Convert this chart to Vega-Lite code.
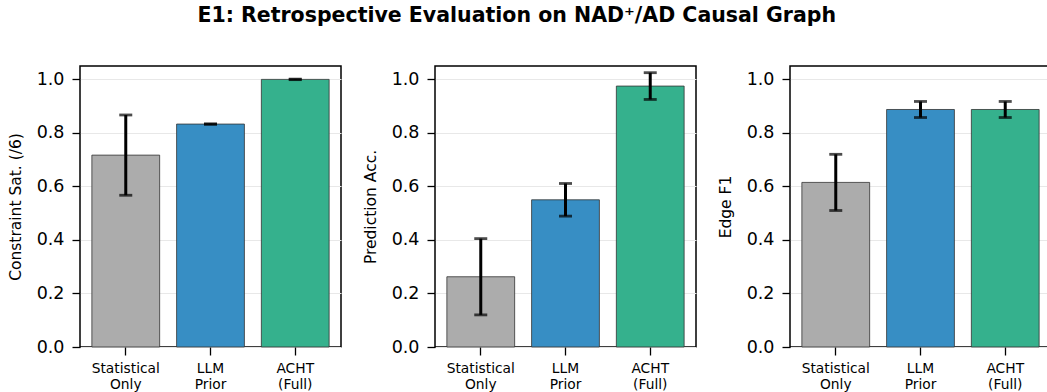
{
  "$schema": "https://vega.github.io/schema/vega-lite/v6.json",
  "padding": {"left": 7, "top": 5, "right": 0, "bottom": 0},
  "title": {"text": "E1: Retrospective Evaluation on NAD⁺/AD Causal Graph", "fontSize": 20.5, "fontWeight": "bold", "font": "DejaVu Sans", "anchor": "start", "dx": 190, "offset": 39, "color": "#000000"},
  "datasets": {
    "d": [
      {"metric": "Constraint Sat. (/6)", "method": "Statistical Only", "value": 0.717, "lo": 0.567, "hi": 0.867},
      {"metric": "Constraint Sat. (/6)", "method": "LLM Prior", "value": 0.833, "lo": 0.832, "hi": 0.834},
      {"metric": "Constraint Sat. (/6)", "method": "ACHT (Full)", "value": 1.0, "lo": 0.999, "hi": 1.001},
      {"metric": "Prediction Acc.", "method": "Statistical Only", "value": 0.2625, "lo": 0.12, "hi": 0.405},
      {"metric": "Prediction Acc.", "method": "LLM Prior", "value": 0.55, "lo": 0.489, "hi": 0.611},
      {"metric": "Prediction Acc.", "method": "ACHT (Full)", "value": 0.975, "lo": 0.925, "hi": 1.025},
      {"metric": "Edge F1", "method": "Statistical Only", "value": 0.615, "lo": 0.51, "hi": 0.72},
      {"metric": "Edge F1", "method": "LLM Prior", "value": 0.8875, "lo": 0.8575, "hi": 0.9175},
      {"metric": "Edge F1", "method": "ACHT (Full)", "value": 0.8875, "lo": 0.8575, "hi": 0.9175}
    ]
  },
  "config": {
    "font": "DejaVu Sans",
    "view": {"stroke": "#000000", "strokeWidth": 1.5},
    "axis": {
      "domain": false,
      "tickColor": "#000000",
      "tickSize": 8,
      "tickWidth": 1.3,
      "labelColor": "#000000",
      "titleColor": "#000000",
      "titleFontWeight": "normal",
      "gridColor": "#e8e8e8",
      "gridWidth": 1
    },
    "axisY": {"labelFontSize": 17.5, "titleFontSize": 15.5, "labelPadding": 8, "titlePadding": 13},
    "axisX": {"labelFontSize": 13.8, "labelPadding": 6, "labelLineHeight": 16, "grid": false}
  },
  "spacing": 20,
  "hconcat": [
    {
      "width": 261, "height": 281,
      "data": {"name": "d"},
      "transform": [{"filter": "datum.metric === 'Constraint Sat. (/6)'"}],
      "encoding": {
        "x": {"field": "method", "type": "nominal", "sort": ["Statistical Only", "LLM Prior", "ACHT (Full)"], "scale": {"paddingInner": 0.2, "paddingOuter": 0.14}, "axis": {"title": null, "labelAngle": 0, "labelExpr": "split(datum.label, ' ')"}}
      },
      "layer": [
        {"mark": {"type": "bar", "stroke": "#333333", "strokeOpacity": 0.8, "strokeWidth": 1},
         "encoding": {
           "y": {"field": "value", "type": "quantitative", "scale": {"domain": [0, 1.05], "nice": false}, "axis": {"title": "Constraint Sat. (/6)", "values": [0, 0.2, 0.4, 0.6, 0.8, 1.0], "format": ".1f"}},
           "color": {"field": "method", "type": "nominal", "scale": {"domain": ["Statistical Only", "LLM Prior", "ACHT (Full)"], "range": ["#acacac", "#378ec4", "#35b18d"]}, "legend": null}
         }},
        {"mark": {"type": "rule", "color": "#000000", "strokeWidth": 3},
         "encoding": {"y": {"field": "lo", "type": "quantitative"}, "y2": {"field": "hi"}}},
        {"mark": {"type": "tick", "color": "#000000", "thickness": 2.8, "size": 13},
         "encoding": {"y": {"field": "lo", "type": "quantitative"}}},
        {"mark": {"type": "tick", "color": "#000000", "thickness": 2.8, "size": 13},
         "encoding": {"y": {"field": "hi", "type": "quantitative"}}}
      ]
    },
    {
      "width": 261, "height": 281,
      "data": {"name": "d"},
      "transform": [{"filter": "datum.metric === 'Prediction Acc.'"}],
      "encoding": {
        "x": {"field": "method", "type": "nominal", "sort": ["Statistical Only", "LLM Prior", "ACHT (Full)"], "scale": {"paddingInner": 0.2, "paddingOuter": 0.14}, "axis": {"title": null, "labelAngle": 0, "labelExpr": "split(datum.label, ' ')"}}
      },
      "layer": [
        {"mark": {"type": "bar", "stroke": "#333333", "strokeOpacity": 0.8, "strokeWidth": 1},
         "encoding": {
           "y": {"field": "value", "type": "quantitative", "scale": {"domain": [0, 1.05], "nice": false}, "axis": {"title": "Prediction Acc.", "values": [0, 0.2, 0.4, 0.6, 0.8, 1.0], "format": ".1f"}},
           "color": {"field": "method", "type": "nominal", "scale": {"domain": ["Statistical Only", "LLM Prior", "ACHT (Full)"], "range": ["#acacac", "#378ec4", "#35b18d"]}, "legend": null}
         }},
        {"mark": {"type": "rule", "color": "#000000", "strokeWidth": 3},
         "encoding": {"y": {"field": "lo", "type": "quantitative"}, "y2": {"field": "hi"}}},
        {"mark": {"type": "tick", "color": "#000000", "thickness": 2.8, "size": 13},
         "encoding": {"y": {"field": "lo", "type": "quantitative"}}},
        {"mark": {"type": "tick", "color": "#000000", "thickness": 2.8, "size": 13},
         "encoding": {"y": {"field": "hi", "type": "quantitative"}}}
      ]
    },
    {
      "width": 261, "height": 281,
      "data": {"name": "d"},
      "transform": [{"filter": "datum.metric === 'Edge F1'"}],
      "encoding": {
        "x": {"field": "method", "type": "nominal", "sort": ["Statistical Only", "LLM Prior", "ACHT (Full)"], "scale": {"paddingInner": 0.2, "paddingOuter": 0.14}, "axis": {"title": null, "labelAngle": 0, "labelExpr": "split(datum.label, ' ')"}}
      },
      "layer": [
        {"mark": {"type": "bar", "stroke": "#333333", "strokeOpacity": 0.8, "strokeWidth": 1},
         "encoding": {
           "y": {"field": "value", "type": "quantitative", "scale": {"domain": [0, 1.05], "nice": false}, "axis": {"title": "Edge F1", "values": [0, 0.2, 0.4, 0.6, 0.8, 1.0], "format": ".1f"}},
           "color": {"field": "method", "type": "nominal", "scale": {"domain": ["Statistical Only", "LLM Prior", "ACHT (Full)"], "range": ["#acacac", "#378ec4", "#35b18d"]}, "legend": null}
         }},
        {"mark": {"type": "rule", "color": "#000000", "strokeWidth": 3},
         "encoding": {"y": {"field": "lo", "type": "quantitative"}, "y2": {"field": "hi"}}},
        {"mark": {"type": "tick", "color": "#000000", "thickness": 2.8, "size": 13},
         "encoding": {"y": {"field": "lo", "type": "quantitative"}}},
        {"mark": {"type": "tick", "color": "#000000", "thickness": 2.8, "size": 13},
         "encoding": {"y": {"field": "hi", "type": "quantitative"}}}
      ]
    }
  ]
}
